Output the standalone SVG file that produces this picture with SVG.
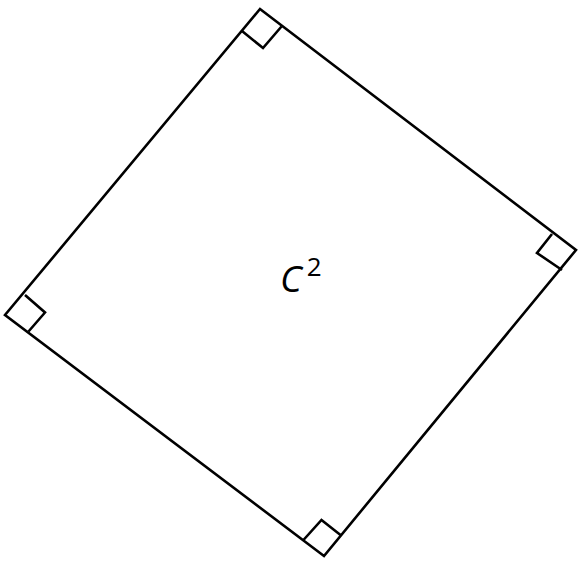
<svg xmlns="http://www.w3.org/2000/svg" width="578" height="562" viewBox="0 0 578 562">
<style>
.ln{fill:none;stroke:#000;stroke-width:2.6;stroke-linejoin:miter}
.lbl{font-family:"Open Sans","DejaVu Sans",sans-serif;fill:#000}
</style>
<rect width="578" height="562" fill="#fff"/>
<g id="square">
<polygon class="ln" points="260,9 576,250 324,556 5,315"/>
</g>
<g id="right-angles">
<polyline class="ln" points="242,31 263,48 281.5,26.5"/>
<polyline class="ln" points="552,234 537,253 562,270"/>
<polyline class="ln" points="303,540.5 321.5,520 340.5,535"/>
<polyline class="ln" points="25,295 45,312.5 28.5,331.5"/>
</g>
<g id="label">
<text class="lbl" x="280" y="292" font-size="37" font-style="italic">C<tspan dx="5" dy="-16" font-size="26" font-style="normal">2</tspan></text>
</g>
</svg>
